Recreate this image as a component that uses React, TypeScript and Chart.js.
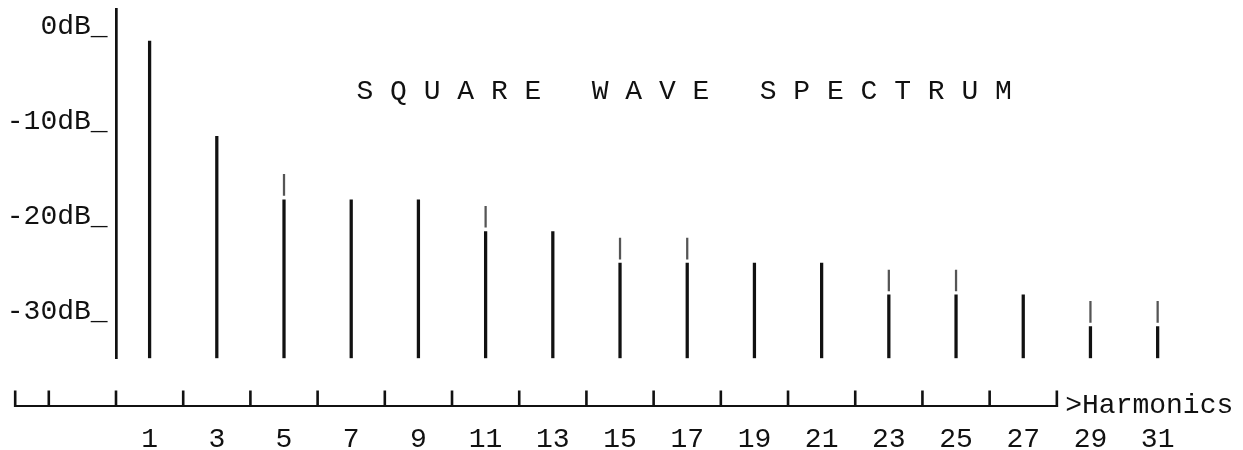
import React, { useEffect, useRef } from "react";
import { Chart, registerables } from "chart.js";

Chart.register(...registerables);

// ---- data ----
const harmonics = [1, 3, 5, 7, 9, 11, 13, 15, 17, 19, 21, 23, 25, 27, 29, 31];
const barTopDb = [0, -10, -16.67, -16.67, -16.67, -20, -20, -23.33, -23.33, -23.33, -23.33, -26.67, -26.67, -26.67, -30, -30];
const halfHarmonics = [5, 11, 15, 17, 23, 25, 29, 31];
const halfTopDb = [-14.0, -17.35, -20.7, -20.7, -24.05, -24.05, -27.35, -27.35];
const halfBottomDb = [-16.2, -19.55, -22.9, -22.9, -26.25, -26.25, -29.55, -29.55];
const yTickDb = [0, -10, -20, -30];
const axisTickValues = [-2, 0, 2, 4, 6, 8, 10, 12, 14, 16, 18, 20, 22, 24, 26, 28];
const axisStart = -3;
const axisEnd = 28;
const dbFloor = -33.33;
const dbCeil = 3.33;
const harmonicMax = 33.54;
const titleText = "S Q U A R E   W A V E   S P E C T R U M";
const axisName = ">Harmonics";

const FONT = "'Liberation Mono', 'DejaVu Sans Mono', monospace";
const INK = "#111";

const asciiAxisPlugin = {
  id: "asciiAxis",
  afterDraw(chart: any) {
    const { ctx, chartArea } = chart;
    const xs = chart.scales.x;
    const px = (v: number) => xs.getPixelForValue(v);
    const lineY = chartArea.bottom + 47.7;
    const tickTop = lineY - 15.5;
    ctx.save();
    ctx.strokeStyle = INK;
    ctx.lineWidth = 2;
    ctx.beginPath();
    ctx.moveTo(px(axisStart) - 1.2, lineY);
    ctx.lineTo(px(axisEnd) + 1.2, lineY);
    ctx.stroke();
    ctx.lineWidth = 2.6;
    ctx.beginPath();
    [axisStart, ...axisTickValues].forEach((v) => {
      ctx.moveTo(px(v), tickTop);
      ctx.lineTo(px(v), lineY + 1);
    });
    ctx.stroke();
    ctx.fillStyle = INK;
    ctx.font = `28px ${FONT}`;
    ctx.textBaseline = "alphabetic";
    ctx.textAlign = "left";
    ctx.fillText(axisName, px(axisEnd) + 8.4, lineY + 7);
    ctx.fillText(titleText, 356.5, 99);
    ctx.restore();
  },
};

export default function App() {
  const ref = useRef<HTMLCanvasElement | null>(null);

  useEffect(() => {
    if (!ref.current) return;
    const chart = new Chart(ref.current, {
      type: "bar",
      data: {
        datasets: [
          {
            label: "harmonic level",
            data: harmonics.map((h, i) => ({ x: h, y: [dbFloor, barTopDb[i]] })) as any,
            backgroundColor: INK,
            borderWidth: 0,
            barThickness: 2.6,
            grouped: false,
          } as any,
          {
            label: "half step",
            data: halfHarmonics.map((h, i) => ({ x: h, y: [halfBottomDb[i], halfTopDb[i]] })) as any,
            backgroundColor: "#555",
            borderWidth: 0,
            barThickness: 1.6,
            grouped: false,
          } as any,
        ],
      },
      options: {
        animation: false,
        responsive: false,
        events: [],
        layout: { padding: { top: 9.5, left: 0, right: 0, bottom: 0 } },
        plugins: { legend: { display: false }, tooltip: { enabled: false }, title: { display: false } },
        scales: {
          x: {
            type: "linear",
            position: "bottom",
            offset: false,
            min: 0,
            max: harmonicMax,
            grid: { display: false, drawTicks: false, offset: false },
            border: { display: false },
            afterBuildTicks: (s: any) => {
              s.ticks = harmonics.map((v) => ({ value: v }));
            },
            afterFit: (s: any) => {
              s.height = 91.7;
              s.paddingLeft = 0;
              s.paddingRight = 0;
            },
            ticks: {
              autoSkip: false,
              maxRotation: 0,
              padding: 64,
              color: INK,
              font: { family: FONT, size: 28 },
              callback: (v: any) => String(v),
            },
          },
          y: {
            type: "linear",
            position: "left",
            min: dbFloor,
            max: dbCeil,
            grid: { display: false, drawTicks: false },
            border: { display: true, color: INK, width: 2.7 },
            afterBuildTicks: (s: any) => {
              s.ticks = yTickDb.map((v) => ({ value: v }));
            },
            afterFit: (s: any) => {
              s.width = 116;
              s.paddingTop = 0;
              s.paddingBottom = 0;
            },
            ticks: {
              padding: 8.4,
              labelOffset: -15,
              color: INK,
              font: { family: FONT, size: 28 },
              callback: (v: any) => `${v}dB_`,
            },
          },
        },
      } as any,
      plugins: [asciiAxisPlugin],
    });
    return () => chart.destroy();
  }, []);

  return (
    <div style={{ position: "absolute", left: 0, top: 0, width: 1243, height: 450, background: "#fff" }}>
      <canvas ref={ref} width={1243} height={450} style={{ display: "block" }} />
    </div>
  );
}
